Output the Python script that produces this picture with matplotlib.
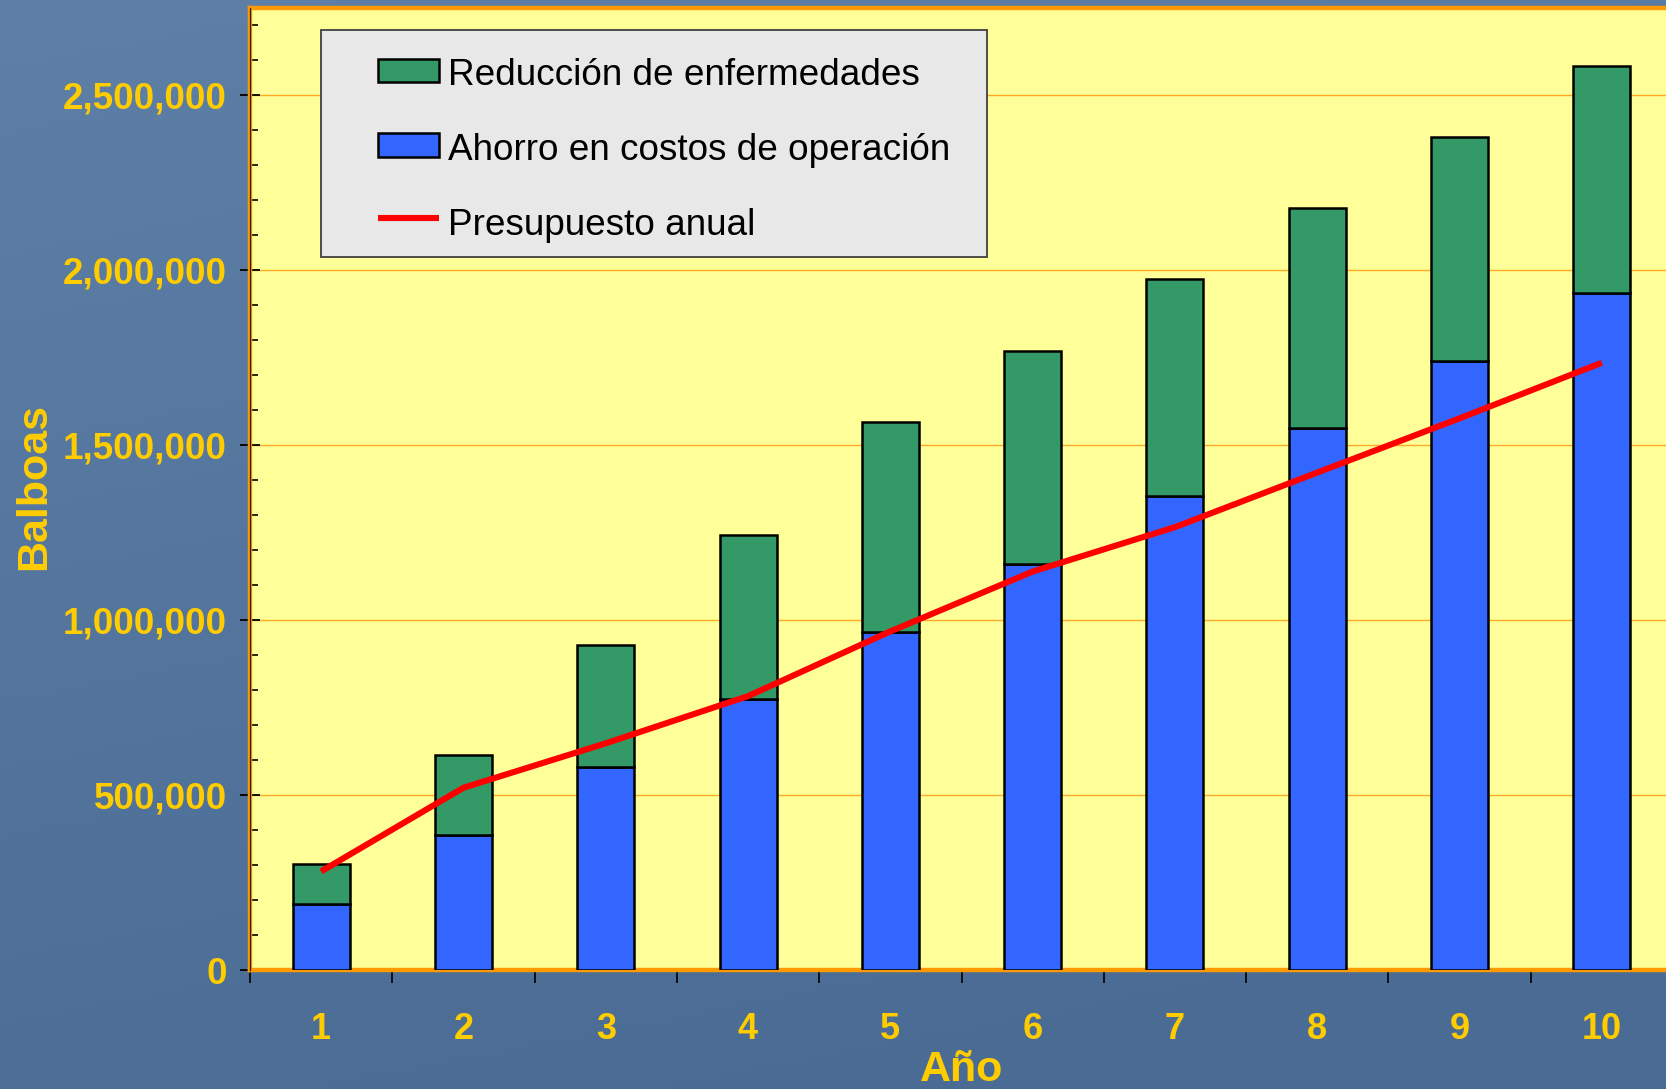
import numpy as np
import matplotlib
matplotlib.use("Agg")
import matplotlib.pyplot as plt
from matplotlib.patches import Rectangle
from matplotlib.lines import Line2D
from matplotlib.ticker import FuncFormatter, MultipleLocator, FixedLocator

# ---- data ----
years = [1, 2, 3, 4, 5, 6, 7, 8, 9, 10]
ahorro = [190000, 386000, 579000, 775000, 967000, 1160000, 1354000, 1548000, 1741000, 1934000]
reduccion = [114000, 228000, 351000, 469000, 599000, 610000, 620000, 630000, 641000, 651000]
presupuesto = [282000, 521000, 648000, 783000, 968000, 1139000, 1266000, 1422000, 1577000, 1736000]
labels = ["Reducción de enfermedades", "Ahorro en costos de operación", "Presupuesto anual"]

W, H = 1666, 1089
plt.rcParams['font.family'] = ['Liberation Sans', 'DejaVu Sans']
fig = plt.figure(figsize=(W / 100, H / 100), dpi=100)

# background gradient
bg = fig.add_axes([0, 0, 1, 1], zorder=-10)
yy, xx = np.mgrid[0:1:200j, 0:1:300j]
top = np.array([0x5e, 0x80, 0xa7]) / 255
bot = np.array([0x4a, 0x6c, 0x94]) / 255
t = np.clip(yy * 0.85 + xx * 0.25, 0, 1)[..., None]
img = top * (1 - t) + bot * t
bg.imshow(img, aspect='auto', extent=[0, 1, 0, 1], origin='upper')
bg.axis('off')

# axes in pixel geometry
left, right, topp, bottom = 250, 1673, 8, 970
ax = fig.add_axes([left / W, (H - bottom) / H, (right - left) / W, (bottom - topp) / H])
ax.set_facecolor('#FFFF99')

green = '#339966'
blue = '#3366FF'
red = '#FF0000'
yellow = '#FFCC00'

ax.bar(years, ahorro, width=0.4, color=blue, edgecolor='black', linewidth=1.8, zorder=3)
ax.bar(years, reduccion, width=0.4, bottom=ahorro, color=green, edgecolor='black', linewidth=1.8, zorder=3)
ax.plot(years, presupuesto, color=red, linewidth=4.4, zorder=4, solid_capstyle='butt')

ax.set_xlim(0.5, 10.5)
ax.set_ylim(0, 2750000)

ax.yaxis.set_major_locator(MultipleLocator(500000))
ax.yaxis.set_minor_locator(MultipleLocator(100000))
ax.yaxis.set_major_formatter(FuncFormatter(lambda v, p: f"{int(v):,}"))
ax.set_xticks(years)
ax.set_xticklabels([str(y) for y in years])
ax.xaxis.set_minor_locator(FixedLocator(np.arange(0.5, 11, 1.0)))

ax.grid(axis='y', which='major', color='#FFAA22', linewidth=1.0, zorder=1)
ax.set_axisbelow(True)

xpad = 28.0
ax.tick_params(axis='y', which='major', direction='inout', length=13.7, width=1.3, color='black',
               labelsize=26.5, labelcolor=yellow, pad=10)
ax.tick_params(axis='y', which='minor', direction='in', length=5.8, width=1.2, color='black')
ax.tick_params(axis='x', which='major', length=0, labelsize=26, labelcolor=yellow, pad=xpad)
ax.tick_params(axis='x', which='minor', direction='out', length=9, width=1.2, color='black')
for lab in ax.get_xticklabels() + ax.get_yticklabels():
    lab.set_fontweight('bold')

for s in ax.spines.values():
    s.set_color('#FF9900')
    s.set_linewidth(3.2)
ax.axvline(0.5, color='#222222', linewidth=0.9, zorder=6, clip_on=False)

ax.set_ylabel("Balboas", fontsize=31, fontweight='bold', color=yellow)
ax.yaxis.set_label_coords(-(left - 54) / (right - left), (bottom - 487) / (bottom - topp))
ax.set_xlabel("Año", fontsize=31, fontweight='bold', color=yellow)
ax.xaxis.set_label_coords(0.5, -(1050 - bottom) / (bottom - topp))

# fine-tune text placement from measured extents
fig.canvas.draw()
rend = fig.canvas.get_renderer()
bb = ax.get_xticklabels()[0].get_window_extent(rend)
cur_top = H - bb.y1
xpad += (1012 - cur_top) * 72 / 100
ax.tick_params(axis='x', which='major', pad=xpad)
bbl = ax.xaxis.label.get_window_extent(rend)
cur_ltop = H - bbl.y1
ax.xaxis.set_label_coords(0.5, -(1050 - bottom + (1050 - cur_ltop)) / (bottom - topp))

# legend box (drawn in figure pixel geometry)
def fx(px):
    return px / W

def fy(py):
    return (H - py) / H

box = Rectangle((fx(321), fy(256.5)), fx(987) - fx(321), fy(30.5) - fy(256.5), transform=fig.transFigure,
                facecolor='#E8E8E8', edgecolor='#404040', linewidth=1.3, zorder=10)
fig.patches.append(box)
handle_y = [70, 145, 218]
text_base = [85, 160, 235]
colors = [green, blue]
for i, lab in enumerate(labels):
    cy = handle_y[i]
    if i < 2:
        r = Rectangle((fx(378), fy(cy + 11.5)), fx(438.5) - fx(378), fy(cy - 11.5) - fy(cy + 11.5),
                      transform=fig.transFigure, facecolor=colors[i], edgecolor='black',
                      linewidth=1.8, zorder=11)
        fig.patches.append(r)
    else:
        ln = Line2D([fx(378), fx(438.5)], [fy(cy), fy(cy)], transform=fig.transFigure,
                    color=red, linewidth=4.4, zorder=11, solid_capstyle='butt')
        fig.lines.append(ln)
    fig.text(fx(448.5), fy(text_base[i]), lab, fontsize=26.6, color='black', va='baseline', ha='left', zorder=12)

fig.savefig('out.png', dpi=100)
